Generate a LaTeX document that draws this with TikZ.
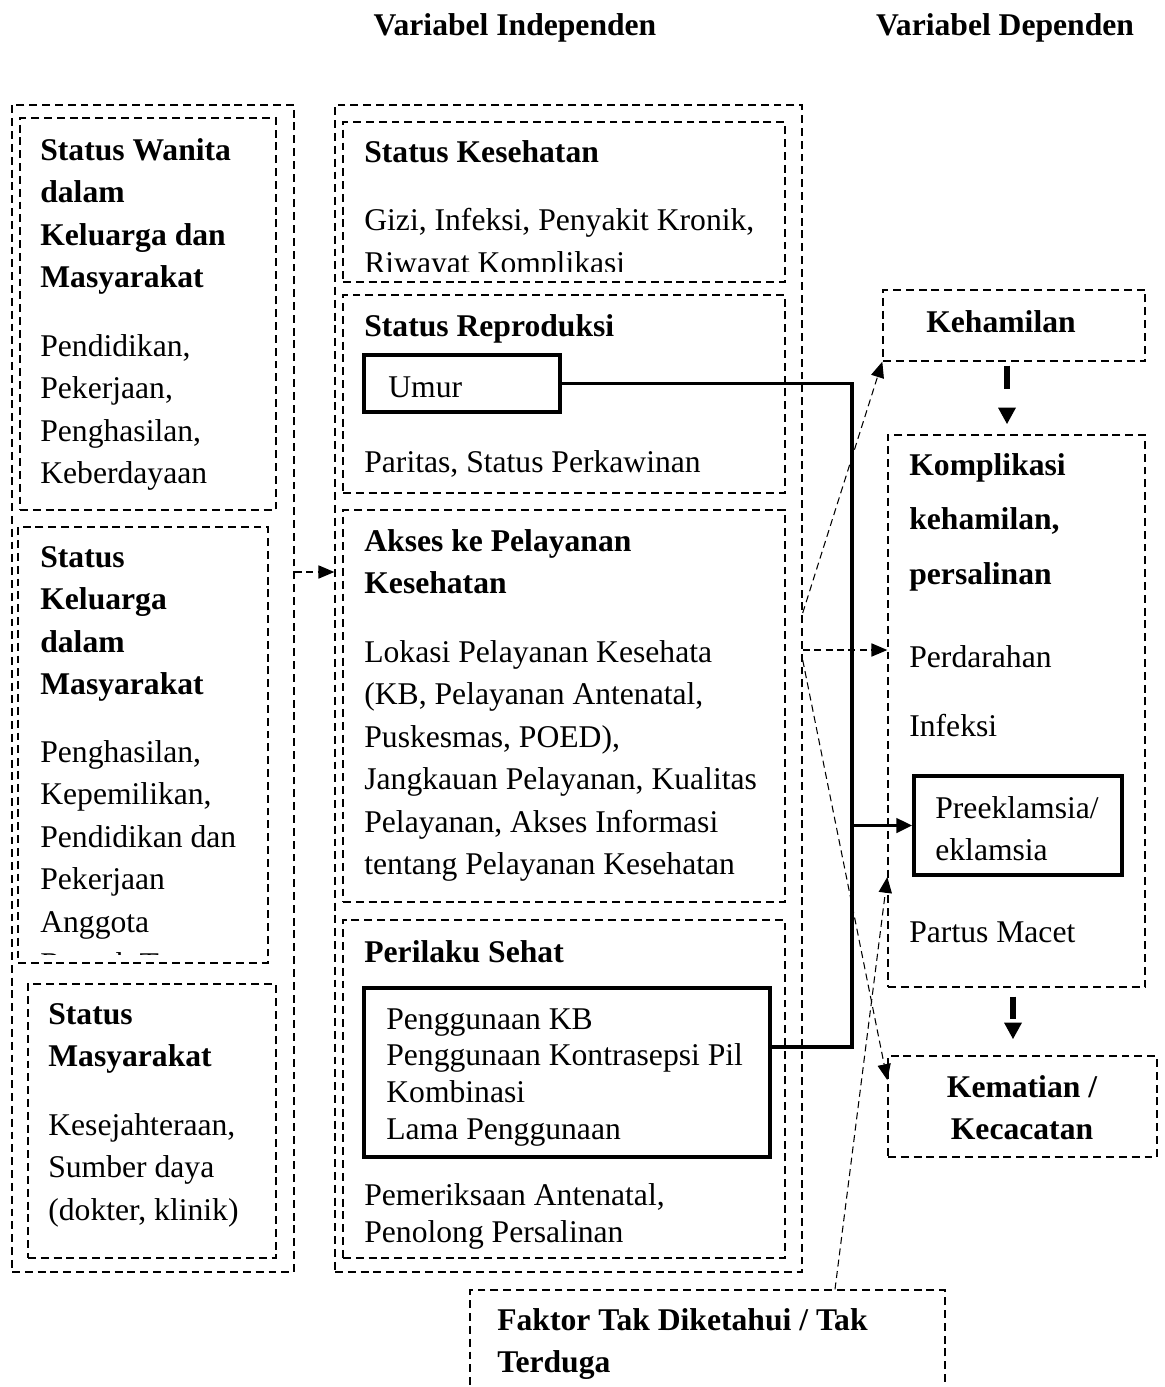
\documentclass[tikz,border=0pt]{standalone}
\usepackage{fontspec}
\setmainfont{Liberation Serif}
\usetikzlibrary{arrows.meta,fit}

\begin{document}
\begin{tikzpicture}[x=0.02cm,y=-0.02cm,
    every node/.style={font=\fontsize{18}{24.2}\selectfont},
    hd/.style={font=\fontsize{18}{24.2}\selectfont\bfseries},
    txt/.style={anchor=north west,align=left,inner sep=0},
    dbox/.style={draw,line width=0.8pt,dash pattern=on 4.5pt off 2.8pt,inner sep=0},
    sbox/.style={draw,line width=2pt,inner sep=0},
    darr/.style={line width=0.6pt,dash pattern=on 4pt off 2.5pt,-{Triangle[length=9pt,width=7.5pt]}},
    thk/.style={line width=2.2pt},
    tarr/.style={line width=3pt,-{Triangle[length=9.5pt,width=9.5pt]}}]
    \useasboundingbox (0,0) rectangle (1165,1387);
    \clip (0,0) rectangle (1165,1387);
    %
    \node[hd] (tind) at (515,28) {Variabel Independen};
    \node[hd] (tdep) at (1005,28) {Variabel Dependen};
    % kolom kiri
    \node[dbox,fit={(12,105) (294,1272)}] (lft) {};
    \node[dbox,fit={(20,118) (276,510)}] (sw) {};
    \node[dbox,fit={(18,527) (268,963)}] (skl) {};
    \node[dbox,fit={(28,984) (276,1258)}] (sm) {};
    \node[txt,hd] (swh) at (40,138) {Status Wanita\\dalam\\Keluarga dan\\Masyarakat};
    \node[txt] (swb) at (40,334) {Pendidikan,\\Pekerjaan,\\Penghasilan,\\Keberdayaan};
    \node[txt,hd] (sklh) at (40,546) {Status\\Keluarga\\dalam\\Masyarakat};
    \begin{scope}
        \clip (18,527) rectangle (268,954);
        \node[txt] (sklb) at (40,740) {Penghasilan,\\Kepemilikan,\\Pendidikan dan\\Pekerjaan\\Anggota\\Rumah Tangga};
    \end{scope}
    \node[txt,hd] (smh) at (48,1003) {Status\\Masyarakat};
    \node[txt] (smb) at (48,1113) {Kesejahteraan,\\Sumber daya\\(dokter, klinik)};
    % kolom tengah
    \node[dbox,fit={(335,105) (802,1272)}] (mid) {};
    \node[dbox,fit={(343,122) (785,282)}] (sk) {};
    \node[dbox,fit={(343,295) (785,493)}] (sr) {};
    \node[dbox,fit={(343,510) (785,902)}] (ak) {};
    \node[dbox,fit={(343,920) (785,1258)}] (ps) {};
    \node[txt,hd] (skh) at (364,140) {Status Kesehatan};
    \begin{scope}
        \clip (343,122) rectangle (785,271);
        \node[txt] (skb) at (364,208) {Gizi, Infeksi, Penyakit Kronik,\\Riwayat Komplikasi};
    \end{scope}
    \node[txt,hd] (srh) at (364,314) {Status Reproduksi};
    \node[sbox,fit={(364,355) (560,412)}] (umur) {};
    \node[txt] (umurt) at (388,376) {Umur};
    \node[txt] (srb) at (364,450) {Paritas, Status Perkawinan};
    \node[txt,hd] (akh) at (364,529) {Akses ke Pelayanan\\Kesehatan};
    \node[txt] (akb) at (364,640) {Lokasi Pelayanan Kesehata\\(KB, Pelayanan Antenatal,\\Puskesmas, POED),\\Jangkauan Pelayanan, Kualitas\\Pelayanan, Akses Informasi\\tentang Pelayanan Kesehatan};
    \node[txt,hd] (psh) at (364,940) {Perilaku Sehat};
    \node[sbox,fit={(364,988) (770,1157)}] (kb) {};
    \node[txt,font=\fontsize{18}{21}\selectfont] (kbt) at (386,1008) {Penggunaan KB\\Penggunaan Kontrasepsi Pil\\Kombinasi\\Lama Penggunaan};
    \node[txt,font=\fontsize{18}{21}\selectfont] (psb) at (364,1183) {Pemeriksaan Antenatal,\\Penolong Persalinan};
    % kolom kanan
    \node[dbox,fit={(883,290) (1145,361)}] (keh) {};
    \node[hd] (keht) at (1001,322) {Kehamilan};
    \node[dbox,fit={(888,435) (1145,987)}] (kom) {};
    \node[txt,font=\fontsize{18}{31}\selectfont\bfseries] (komh) at (909,453) {Komplikasi\\kehamilan,\\persalinan};
    \node[txt] (pdr) at (909,645) {Perdarahan};
    \node[txt] (inf) at (909,714) {Infeksi};
    \node[sbox,fit={(914,776) (1122,875)}] (pre) {};
    \node[txt] (pret) at (935,796) {Preeklamsia/\\eklamsia};
    \node[txt] (pm) at (909,921) {Partus Macet};
    \node[dbox,fit={(888,1056) (1157,1157)}] (kem) {};
    \node[hd,align=center,anchor=north,inner sep=0] (kemt) at (1022,1075) {Kematian /\\Kecacatan};
    \node[dbox,fit={(470,1290) (945,1420)}] (fak) {};
    \node[txt,hd] (fakt) at (497,1308) {Faktor Tak Diketahui / Tak\\Terduga};
    % garis tebal
    \coordinate (jx) at (852,1047);
    \draw[thk] (umur.east) -- (umur.east -| jx) -- (jx) -- (kb.east |- jx);
    \draw[thk,-{Triangle[length=9pt,width=8pt]}] (pre.west -| jx) -- (pre.west);
    % panah putus-putus
    \coordinate (a1) at (0,572);
    \coordinate (a2) at (0,613);
    \coordinate (a3) at (0,650);
    \coordinate (a4) at (0,660);
    \coordinate (a5) at (0,1080);
    \coordinate (a6) at (835,0);
    \coordinate (a7) at (0,877);
    \draw[darr] (lft.east |- a1) -- (mid.west |- a1);
    \draw[darr] (mid.east |- a2) -- (keh.south west);
    \draw[darr] (mid.east |- a3) -- (kom.west |- a3);
    \draw[darr] (mid.east |- a4) -- (kem.west |- a5);
    \draw[darr] (fak.north -| a6) -- (kom.west |- a7);
    %
    \coordinate (t1) at (1007,0);
    \coordinate (t2) at (1013,0);
    \draw[tarr,dash pattern=on 0.46cm off 1cm,shorten <=0.08cm,shorten >=0.2cm] (keh.south -| t1) -- (kom.north -| t1);
    \draw[tarr,dash pattern=on 0.44cm off 1cm,shorten <=0.18cm,shorten >=0.32cm] (kom.south -| t2) -- (kem.north -| t2);
\end{tikzpicture}
\end{document}
